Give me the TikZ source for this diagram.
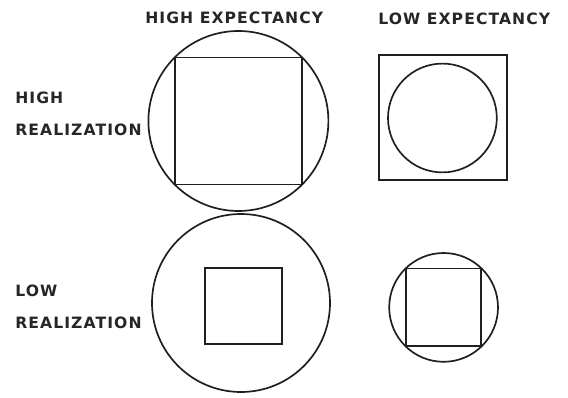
\documentclass[tikz,border=0pt]{standalone}
\usepackage{fontspec}
\newfontfamily\lblfont[LetterSpace=7]{DejaVu Sans}
\begin{document}
\begin{tikzpicture}[scale=1.0,
  lbl/.style={anchor=west, inner sep=0pt, font=\lblfont\bfseries\fontsize{11.1}{13}\selectfont, text=black!85},
  outline/.style={line width=1.2pt, draw=black!88}]
\useasboundingbox (0,0) rectangle (14.2,9.925);
% column and row labels
\node[lbl] (highexp) at (3.625,9.475) {HIGH EXPECTANCY};
\node[lbl] (lowexp) at (9.45,9.46) {LOW EXPECTANCY};
\node[lbl] (highrow) at (0.375,7.49) {HIGH};
\node[lbl] (highreal) at (0.375,6.675) {REALIZATION};
\node[lbl] (lowrow) at (0.375,2.65) {LOW};
\node[lbl] (lowreal) at (0.375,1.86) {REALIZATION};
% high realization, high expectancy
\draw[outline] (5.96,6.90) circle (2.25);
\draw[outline] (4.37,5.31) rectangle (7.55,8.49);
% high realization, low expectancy
\draw[outline] (9.475,5.425) rectangle (12.675,8.55);
\draw[outline] (11.06,6.975) circle (1.36);
% low realization, high expectancy
\draw[outline] (6.025,2.35) circle (2.225);
\draw[outline] (5.125,1.325) rectangle (7.05,3.225);
% low realization, low expectancy
\draw[outline] (11.09,2.24) circle (1.36);
\draw[outline] (10.15,1.27) rectangle (12.03,3.21);
\end{tikzpicture}
\end{document}
